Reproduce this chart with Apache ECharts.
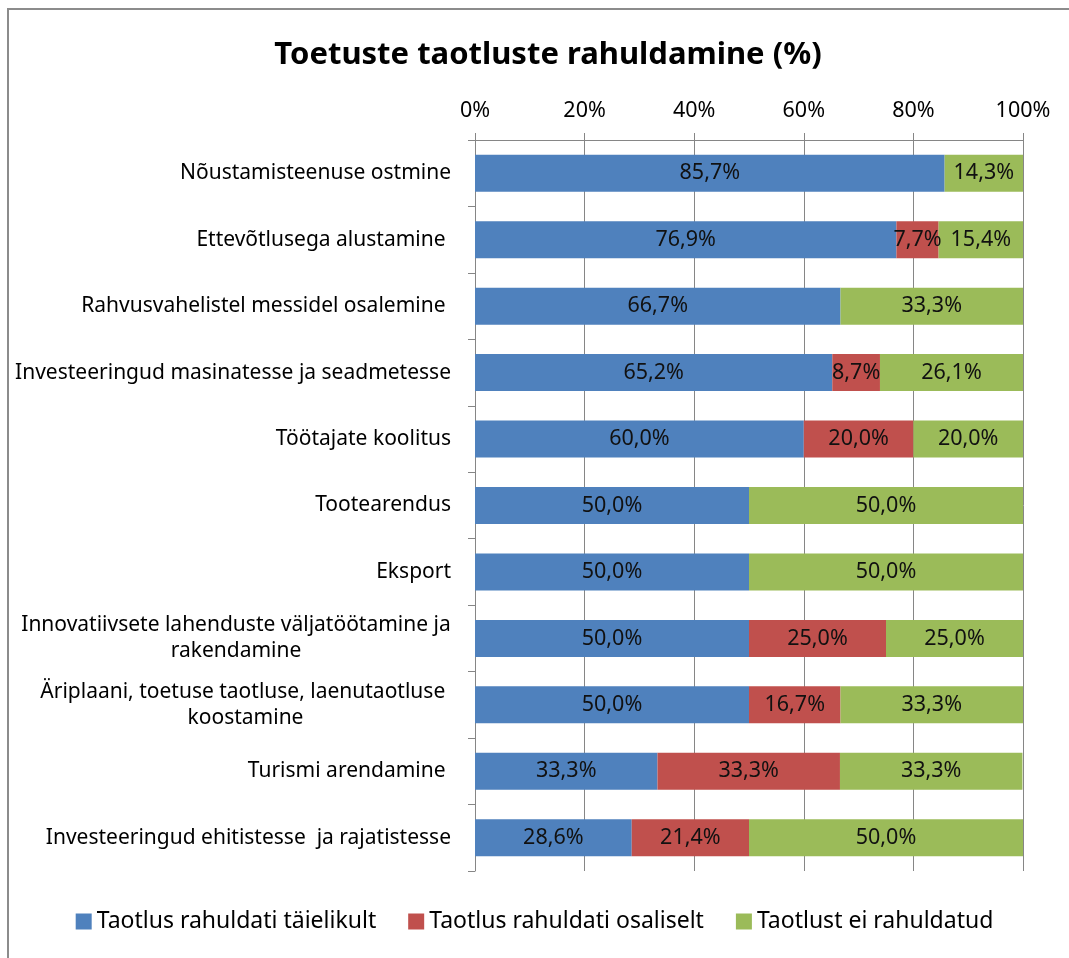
<!DOCTYPE html>
<html>
<head>
<meta charset="utf-8">
<script src="https://cdn.jsdelivr.net/npm/echarts@6/dist/echarts.min.js"></script>
<style>
  html, body { margin: 0; padding: 0; background: #fff; }
  #wrap { position: relative; width: 1069px; height: 958px; }
  #frame { position: absolute; left: 7px; top: 8px; right: 0; bottom: 0; border-left: 2px solid #8c8c8c; border-top: 2px solid #8c8c8c; }
  #chart { position: absolute; left: 0; top: 0; width: 1069px; height: 958px; }
</style>
</head>
<body>
<div id="wrap">
  <div id="frame"></div>
  <div id="chart"></div>
</div>
<script>
const categories = [
  'Nõustamisteenuse ostmine',
  'Ettevõtlusega alustamine ',
  'Rahvusvahelistel messidel osalemine ',
  'Investeeringud masinatesse ja seadmetesse',
  'Töötajate koolitus',
  'Tootearendus',
  'Eksport',
  'Innovatiivsete lahenduste väljatöötamine ja\nrakendamine',
  'Äriplaani, toetuse taotluse, laenutaotluse \nkoostamine',
  'Turismi arendamine ',
  'Investeeringud ehitistesse  ja rajatistesse'
];
const seriesNames = ['Taotlus rahuldati täielikult', 'Taotlus rahuldati osaliselt', 'Taotlust ei rahuldatud'];
const fully = [85.7, 76.9, 66.7, 65.2, 60.0, 50.0, 50.0, 50.0, 50.0, 33.3, 28.6];
const partly = [null, 7.7, null, 8.7, 20.0, null, null, 25.0, 16.7, 33.3, 21.4];
const denied = [14.3, 15.4, 33.3, 26.1, 20.0, 50.0, 50.0, 25.0, 33.3, 33.3, 50.0];
const xTicks = [0, 20, 40, 60, 80, 100];
const colors = ['#4F81BD', '#C0504D', '#9BBB59'];

const FONT = '"Noto Sans", sans-serif';
const catFontSize = 21;

// mitmerealised sildid: iga rida fikseeritud laiusega kasti keskele
const ctx = document.createElement('canvas').getContext('2d');
ctx.font = catFontSize + 'px "Noto Sans", sans-serif';
const blockWidth = v => {
  const w = Math.ceil(Math.max(...v.split('\n').map(l => ctx.measureText(l).width)));
  return w > 0 ? w : 430;
};
const rich = {};
categories.forEach(c => {
  if (c.indexOf('\n') < 0) return;
  const w = blockWidth(c);
  rich['c' + w] = { width: w, align: 'center', fontSize: catFontSize, fontFamily: FONT, color: '#000', lineHeight: 26 };
});
function catFormatter(v) {
  if (v.indexOf('\n') < 0) return v;
  const key = 'c' + blockWidth(v);
  return v.split('\n').map(l => '{' + key + '|' + l + '}').join('\n');
}

const pct = v => v.toFixed(1).replace('.', ',') + '%';

function makeSeries(name, data, i) {
  return {
    name: name,
    type: 'bar',
    stack: 'all',
    data: data,
    barWidth: 37,
    itemStyle: { color: colors[i] },
    label: {
      show: true,
      position: 'inside',
      color: '#111',
      fontFamily: FONT,
      fontSize: 21.5,
      formatter: p => (p.value == null ? '' : pct(p.value))
    },
    emphasis: { disabled: true }
  };
}

const chart = echarts.init(document.getElementById('chart'));
chart.setOption({
  animation: false,
  title: {
    text: 'Toetuste taotluste rahuldamine (%)',
    left: 543,
    textAlign: 'center',
    top: 35,
    textStyle: { fontFamily: FONT, fontSize: 31, fontWeight: 'bold', color: '#000' }
  },
  legend: {
    bottom: 20,
    left: 'center',
    itemWidth: 16,
    itemHeight: 16,
    itemGap: 32,
    icon: 'rect',
    textStyle: { fontFamily: FONT, fontSize: 23, color: '#000' },
    data: seriesNames
  },
  grid: { left: 475, right: 46, top: 140, bottom: 87 },
  xAxis: {
    type: 'value',
    position: 'top',
    min: xTicks[0],
    max: xTicks[xTicks.length - 1],
    interval: 20,
    axisLine: { show: true, lineStyle: { color: '#868686' } },
    axisTick: { show: true, length: 7, lineStyle: { color: '#868686' } },
    splitLine: { show: true, lineStyle: { color: '#868686' } },
    axisLabel: { formatter: '{value}%', fontFamily: FONT, fontSize: 21.5, color: '#000', margin: 18 }
  },
  yAxis: {
    type: 'category',
    inverse: true,
    data: categories,
    axisLine: { show: true, lineStyle: { color: '#868686' } },
    axisTick: { show: true, length: 7, lineStyle: { color: '#868686' } },
    axisLabel: {
      fontFamily: FONT, fontSize: catFontSize, color: '#000', margin: 24, lineHeight: 26,
      formatter: catFormatter, rich: rich
    }
  },
  series: [
    makeSeries(seriesNames[0], fully, 0),
    makeSeries(seriesNames[1], partly, 1),
    makeSeries(seriesNames[2], denied, 2)
  ]
});
</script>
</body>
</html>
